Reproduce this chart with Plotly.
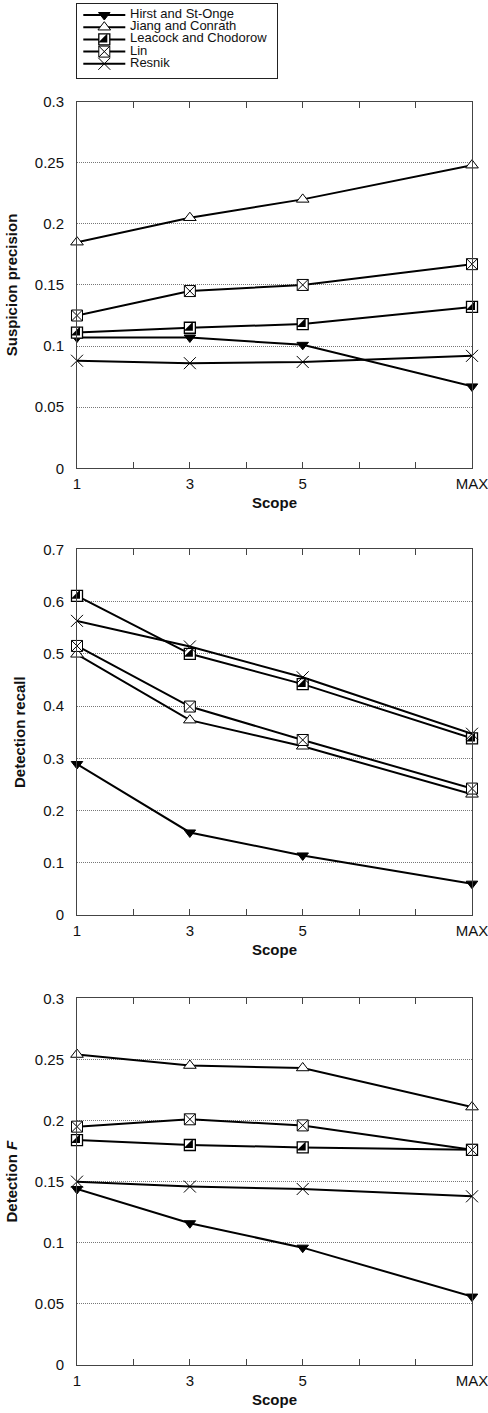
import plotly.graph_objects as go

# ---------------- data ----------------
scope_labels = ["1", "3", "5", "MAX"]
scope_pos = [1, 3, 5, 8]
minor_pos = [1, 2, 3, 4, 5, 6, 7, 8]
series_names = ["Hirst and St-Onge", "Jiang and Conrath", "Leacock and Chodorow", "Lin", "Resnik"]

precision_hirst = [0.107, 0.107, 0.101, 0.067]
precision_jiang = [0.185, 0.205, 0.220, 0.248]
precision_leacock = [0.111, 0.115, 0.118, 0.132]
precision_lin = [0.125, 0.145, 0.150, 0.167]
precision_resnik = [0.088, 0.086, 0.087, 0.092]

recall_hirst = [0.289, 0.158, 0.114, 0.060]
recall_jiang = [0.499, 0.373, 0.323, 0.231]
recall_leacock = [0.611, 0.500, 0.442, 0.338]
recall_lin = [0.515, 0.399, 0.335, 0.242]
recall_resnik = [0.563, 0.514, 0.455, 0.347]

f_hirst = [0.144, 0.116, 0.096, 0.056]
f_jiang = [0.254, 0.245, 0.243, 0.211]
f_leacock = [0.184, 0.180, 0.178, 0.176]
f_lin = [0.195, 0.201, 0.196, 0.176]
f_resnik = [0.150, 0.146, 0.144, 0.138]

panels = [
    ("Suspicion precision", 0.3, 0.05,
     [precision_hirst, precision_jiang, precision_leacock, precision_lin, precision_resnik]),
    ("Detection recall", 0.7, 0.1,
     [recall_hirst, recall_jiang, recall_leacock, recall_lin, recall_resnik]),
    ("Detection <i>F</i>", 0.3, 0.05,
     [f_hirst, f_jiang, f_leacock, f_lin, f_resnik]),
]

# ---------------- styles ----------------
FONT = "Liberation Sans, Arial, Helvetica, sans-serif"
BLACK = "#000000"
styles = [
    dict(symbol="triangle-down", size=10, color=BLACK, line=dict(color=BLACK, width=1)),
    dict(symbol="triangle-up", size=11, color="white", line=dict(color=BLACK, width=1)),
    dict(symbol="square", size=11, color="white", line=dict(color=BLACK, width=1.3)),
    dict(symbol="square-x", size=11, color="white", line=dict(color=BLACK, width=1)),
    dict(symbol="x-thin", size=12, color=BLACK, line=dict(color=BLACK, width=1)),
]
half_style = dict(symbol="triangle-se", size=10, color=BLACK, line=dict(color=BLACK, width=0))

H = 1413
W = 488
ML, MR = 77, 16
plot_px = [(101.6, 468.3), (549.3, 915.0), (998.3, 1365.0)]

fig = go.Figure()

for p, (ytitle, ymax, dtick, vals) in enumerate(panels):
    xa = "x" if p == 0 else f"x{p+1}"
    ya = "y" if p == 0 else f"y{p+1}"
    for i, name in enumerate(series_names):
        fig.add_trace(go.Scatter(
            x=scope_pos, y=vals[i], mode="lines+markers", name=name,
            line=dict(color=BLACK, width=2), marker=styles[i],
            xaxis=xa, yaxis=ya, cliponaxis=False, showlegend=False))
        if i == 2:
            fig.add_trace(go.Scatter(
                x=scope_pos, y=vals[i], mode="markers", name=name,
                marker=half_style, xaxis=xa, yaxis=ya,
                cliponaxis=False, showlegend=False))

    top, bot = plot_px[p]
    dom = [1 - bot / H, 1 - top / H]
    xkey = "xaxis" if p == 0 else f"xaxis{p+1}"
    ykey = "yaxis" if p == 0 else f"yaxis{p+1}"
    ticktext = [scope_labels[scope_pos.index(v)] if v in scope_pos else "" for v in minor_pos]
    fig.update_layout({
        xkey: dict(
            domain=[0, 1], anchor=ya, range=[1, 8], automargin=False,
            tickmode="array", tickvals=minor_pos, ticktext=ticktext,
            ticks="inside", ticklen=6, tickwidth=1, tickcolor="#444",
            showline=True, linecolor="#444", linewidth=1, mirror="ticks",
            showgrid=False, zeroline=False,
            tickfont=dict(family=FONT, size=15, color="#111"),
            ticklabelstandoff=2, ticklabeloverflow="allow",
            title=dict(text="Scope", standoff=6,
                       font=dict(family=FONT, size=15, color="#111", weight="bold")),
        ),
        ykey: dict(
            domain=dom, anchor=xa, range=[0, ymax], dtick=dtick, tick0=0,
            automargin=False,
            ticks="", showline=True, linecolor="#444", linewidth=1, mirror=True,
            showgrid=True, gridcolor="#777", gridwidth=1, griddash="1px,1px",
            zeroline=False,
            tickfont=dict(family=FONT, size=15, color="#111"),
            ticklabelstandoff=9, ticklabeloverflow="allow",
            title=dict(text=ytitle, standoff=13,
                       font=dict(family=FONT, size=15, color="#111", weight="bold")),
        ),
    })

# ---------------- custom legend ----------------
leg_left, leg_right, leg_top, leg_bot = 76.7, 276.7, 4.3, 78.0
plot_w = W - ML - MR
leg_w = leg_right - leg_left
leg_h = leg_bot - leg_top
row_y = [10.7 + 12.2 * i for i in range(len(series_names))]
sample_x = [6.3, 48.3]
marker_x = 27.3
text_x = 52.3

for i, name in enumerate(series_names):
    fig.add_trace(go.Scatter(
        x=sample_x, y=[row_y[i], row_y[i]], mode="lines",
        line=dict(color=BLACK, width=2), xaxis="x4", yaxis="y4",
        showlegend=False, hoverinfo="skip", cliponaxis=False))
    fig.add_trace(go.Scatter(
        x=[marker_x], y=[row_y[i]], mode="markers", marker=styles[i],
        xaxis="x4", yaxis="y4", showlegend=False, hoverinfo="skip", cliponaxis=False))
    if i == 2:
        fig.add_trace(go.Scatter(
            x=[marker_x], y=[row_y[i]], mode="markers", marker=half_style,
            xaxis="x4", yaxis="y4", showlegend=False, hoverinfo="skip", cliponaxis=False))
    fig.add_annotation(
        x=text_x, y=row_y[i], xref="x4", yref="y4", text=name, showarrow=False,
        xanchor="left", yanchor="middle", borderpad=0, yshift=1.5,
        font=dict(family=FONT, size=13, color="#111"))

fig.update_layout(
    xaxis4=dict(domain=[0, leg_w / plot_w], anchor="y4", range=[0, leg_w],
                automargin=False,
                showline=True, mirror=True, linecolor="#222", linewidth=1,
                showticklabels=False, ticks="", showgrid=False, zeroline=False,
                fixedrange=True),
    yaxis4=dict(domain=[1 - leg_bot / H, 1 - leg_top / H], anchor="x4",
                range=[leg_h, 0], automargin=False,
                showline=True, mirror=True, linecolor="#222", linewidth=1,
                showticklabels=False, ticks="", showgrid=False, zeroline=False,
                fixedrange=True),
)

fig.update_layout(
    width=W, height=H,
    margin=dict(l=ML, r=MR, t=0, b=0, autoexpand=False),
    paper_bgcolor="white", plot_bgcolor="white",
    font=dict(family=FONT, size=14, color="#111"),
    showlegend=False,
)

fig.write_html("out.html", config={"displayModeBar": False},
               post_script="document.body.style.margin='0';document.body.style.overflow='hidden';")
